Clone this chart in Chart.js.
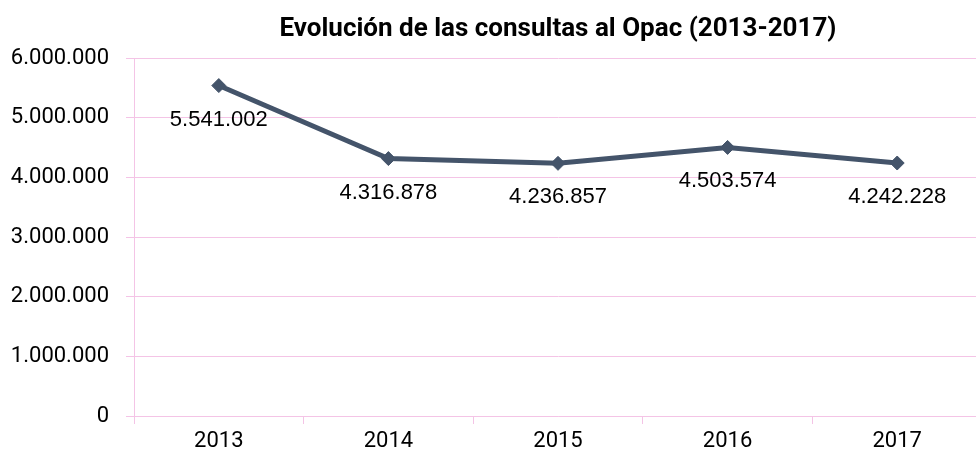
<!DOCTYPE html>
<html>
<head>
<meta charset="utf-8">
<script src="https://cdn.jsdelivr.net/npm/chart.js@4/dist/chart.umd.min.js"></script>
<style>
  html, body { margin: 0; padding: 0; background: #fff; overflow: hidden; }
  #wrap { width: 976px; height: 454px; overflow: hidden; }
</style>
</head>
<body>
<!-- the canvas is wider than the window: the plot runs slightly past the right edge, as in the original -->
<div id="wrap"><canvas id="chart1" width="990" height="454"></canvas></div>
<script>
// Data
const years = ['2013', '2014', '2015', '2016', '2017'];
const consultas = [5541002, 4316878, 4236857, 4503574, 4242228];
const yTicks = [0, 1000000, 2000000, 3000000, 4000000, 5000000, 6000000];

const pink = '#f4c4e6';

// Spanish style thousands separator
function fmt(n) {
    return String(n).replace(/\B(?=(\d{3})+(?!\d))/g, '.');
}

// Draw the value labels under each point
const valueLabels = {
    id: 'valueLabels',
    afterDatasetsDraw(chart) {
        const ctx = chart.ctx;
        const meta = chart.getDatasetMeta(0);
        ctx.save();
        ctx.font = '22px "Liberation Sans", Arial, sans-serif';
        ctx.fillStyle = '#000';
        ctx.textAlign = 'center';
        ctx.textBaseline = 'middle';
        meta.data.forEach((pt, i) => {
            ctx.fillText(fmt(chart.data.datasets[0].data[i]), pt.x, pt.y + 34);
        });
        ctx.restore();
    }
};

let chart1 = new Chart(document.getElementById('chart1'), {
    type: 'line',
    data: {
        labels: years,
        datasets: [{
            label: 'Consultas al Opac',
            data: consultas,
            borderColor: '#44546a',
            backgroundColor: '#44546a',
            borderWidth: 5,
            pointStyle: 'rectRot',
            pointRadius: 7,
            pointBorderWidth: 1,
            tension: 0
        }]
    },
    options: {
        responsive: false,
        maintainAspectRatio: false,
        animation: false,
        layout: {
            padding: { left: 0, right: 4, top: 0, bottom: 0 }
        },
        plugins: {
            legend: { display: false },
            tooltip: { enabled: false },
            title: {
                display: true,
                text: 'Evolución de las consultas al Opac (2013-2017)',
                color: '#000',
                fullSize: false,   // centre over the plot area
                font: { family: 'Roboto', size: 26, weight: 'bold' },
                padding: { top: 14, bottom: 13 }
            }
        },
        scales: {
            x: {
                offset: true,
                grid: {
                    offset: true,
                    drawOnChartArea: false,
                    color: pink,
                    tickLength: 8
                },
                border: { color: pink },
                ticks: {
                    color: '#000',
                    padding: 4,
                    font: { family: 'Roboto', size: 22 }
                },
                afterFit(scale) { scale.height = 38; }
            },
            y: {
                min: 0,
                max: 6000000,
                afterBuildTicks(scale) {
                    scale.ticks = yTicks.map(v => ({ value: v }));
                },
                grid: {
                    color: pink,
                    tickLength: 8
                },
                border: { color: pink },
                ticks: {
                    color: '#000',
                    padding: 17,
                    font: { family: 'Roboto', size: 22 },
                    callback: v => fmt(v)
                },
                afterFit(scale) { scale.width = 134; }
            }
        }
    },
    plugins: [valueLabels]
});
</script>
</body>
</html>
